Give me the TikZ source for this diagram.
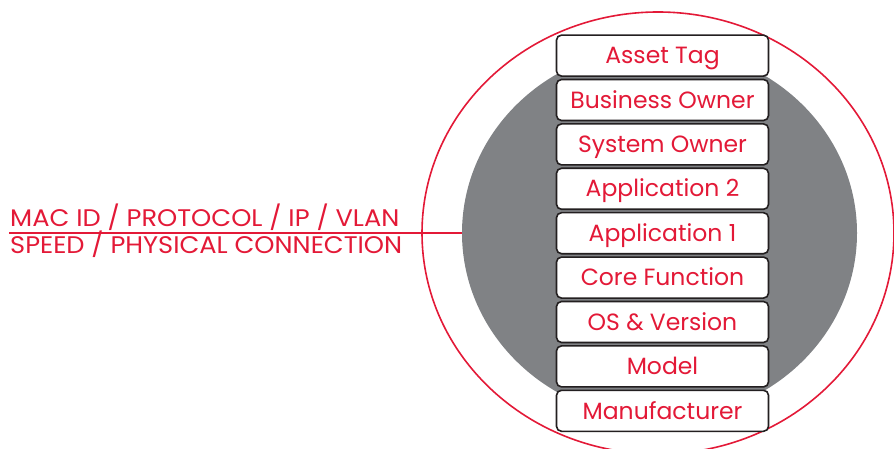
\documentclass[tikz,border=0pt]{standalone}
\usepackage{fontspec}
\setmainfont{Poppins}
\newfontfamily\netfont[FakeStretch=1.07]{Poppins}
\usetikzlibrary{shapes.geometric}

\definecolor{tagred}{RGB}{227,25,55}
\definecolor{coregray}{RGB}{128,130,133}
\definecolor{boxline}{RGB}{35,31,32}

\tikzset{
    layerbox/.style={draw=boxline, line width=1.6pt, fill=white, rounded corners=5pt,
        minimum width=212pt, minimum height=41pt, inner sep=0pt,
        text height=16.4pt, text depth=0pt,
        text=tagred, font=\fontsize{23.5}{28}\selectfont},
    netlabel/.style={text=tagred, inner sep=0pt, font=\netfont\fontsize{24}{29}\selectfont}
}

\begin{document}
\begin{tikzpicture}[x=1pt, y=-1pt]
        \useasboundingbox (0,0) rectangle (894,449);
        % outer ring and grey core
        \node[ellipse, draw=tagred, line width=1.6pt, inner sep=0pt,
            minimum width=472pt, minimum height=442pt] (ring) at (658,233) {};
        \node[ellipse, fill=coregray, inner sep=0pt,
            minimum width=395pt, minimum height=372pt] (core) at (659.5,233) {};
        % network line into the core
        \coordinate (tap) at (9,233);
        \draw[tagred, line width=1.5pt] (tap) -- (core.west);
        \node[netlabel, anchor=base west] (proto) at (10,226.5) {MAC ID / PROTOCOL / IP / VLAN};
        \node[netlabel, anchor=base west] (phys) at (10,253) {SPEED / PHYSICAL CONNECTION};
        % stack of attributes
        \foreach \i/\name/\txt in {
            0/tag/Asset Tag,
            1/bizowner/Business Owner,
            2/sysowner/System Owner,
            3/apptwo/Application 2,
            4/appone/Application 1,
            5/corefn/Core Function,
            6/os/OS \& Version,
            7/model/Model,
            8/maker/Manufacturer
        }{
            \node[layerbox] (\name) at (662.5,55.6+44.4*\i) {\txt};
        }
    \end{tikzpicture}
\end{document}
